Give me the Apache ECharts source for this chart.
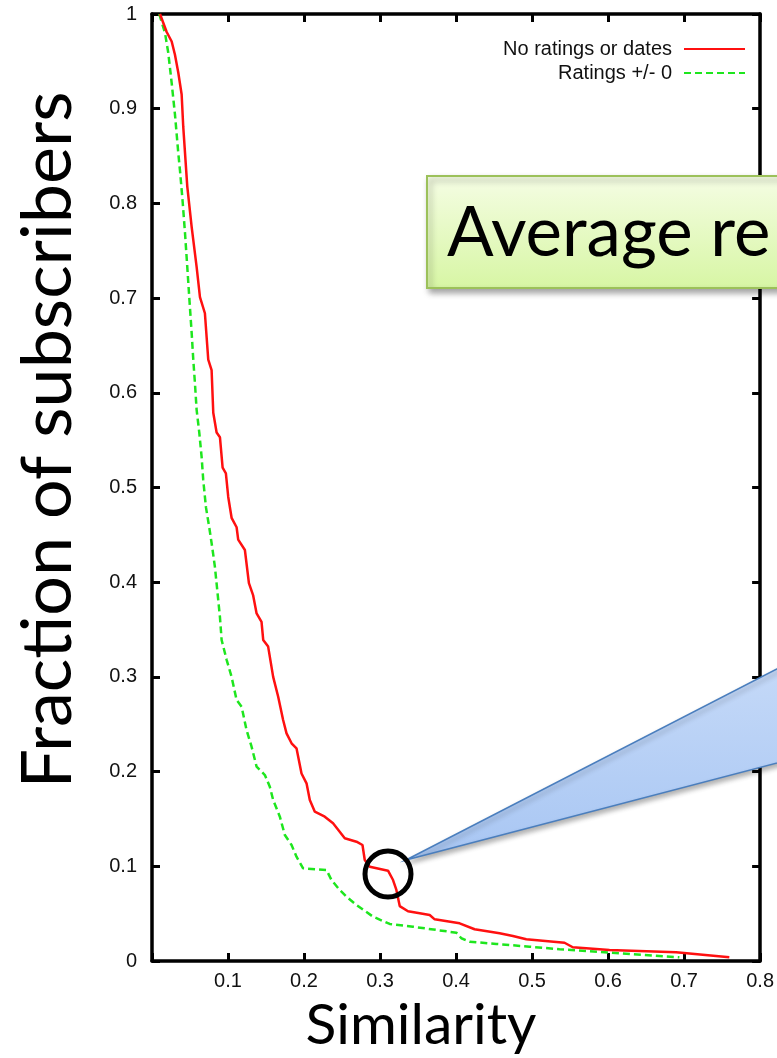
<!DOCTYPE html>
<html>
<head>
<meta charset="utf-8">
<script src="https://cdn.jsdelivr.net/npm/echarts@6/dist/echarts.min.js"></script>
<style>
html,body{margin:0;padding:0;background:#fff;}
#chart{width:777px;height:1058px;}
</style>
</head>
<body>
<div id="chart"></div>
<script>
// Series: "No ratings or dates" (red, solid)
const redX = [0.0105,0.0127,0.0193,0.0259,0.0302,0.0346,0.039,0.0411,0.0464,0.0522,0.0587,0.0631,0.0696,0.074,0.0784,0.0806,0.085,0.0894,0.0929,0.0972,0.1003,0.1047,0.1113,0.1134,0.1222,0.1275,0.1331,0.1376,0.1441,0.1463,0.1528,0.1594,0.166,0.1725,0.177,0.1836,0.1901,0.1967,0.2033,0.2076,0.2142,0.2273,0.2382,0.2536,0.269,0.2769,0.2799,0.2865,0.3105,0.3171,0.3215,0.3259,0.3368,0.3522,0.3653,0.3719,0.4047,0.4244,0.4573,0.4748,0.4924,0.5427,0.5536,0.6018,0.6895,0.7595];
const redY = [1.0,0.999,0.981,0.971,0.957,0.938,0.915,0.881,0.818,0.775,0.733,0.701,0.684,0.635,0.624,0.579,0.558,0.553,0.521,0.515,0.49,0.468,0.458,0.445,0.434,0.399,0.386,0.367,0.358,0.339,0.332,0.300,0.279,0.2545,0.2404,0.2299,0.2246,0.198,0.1876,0.170,0.1577,0.1524,0.1454,0.1296,0.126,0.1225,0.1067,0.0996,0.0954,0.0855,0.075,0.058,0.0525,0.0504,0.0486,0.044,0.0398,0.0335,0.0293,0.0264,0.0229,0.0193,0.0145,0.0116,0.0092,0.0039];
// Series: "Ratings +/- 0" (green, dashed)
const greenX = [0.0095,0.0171,0.0214,0.0259,0.0302,0.0346,0.0368,0.0403,0.0434,0.0464,0.049,0.0522,0.0543,0.0565,0.0587,0.0622,0.0653,0.0674,0.071,0.0753,0.0792,0.0828,0.0858,0.0894,0.0916,0.0982,0.1047,0.1113,0.1179,0.1244,0.131,0.1376,0.1485,0.155,0.1594,0.1682,0.1748,0.1836,0.1901,0.1988,0.2296,0.2361,0.247,0.2559,0.269,0.2908,0.3127,0.3434,0.4004,0.407,0.4179,0.453,0.4967,0.5361,0.6018,0.6938];
const greenY = [1.0,0.980,0.959,0.927,0.894,0.853,0.835,0.802,0.769,0.733,0.701,0.663,0.635,0.610,0.582,0.558,0.532,0.508,0.479,0.458,0.437,0.416,0.392,0.363,0.339,0.318,0.300,0.2756,0.2685,0.2439,0.2263,0.2052,0.1964,0.184,0.170,0.1524,0.133,0.1225,0.1101,0.0979,0.0961,0.0855,0.075,0.0679,0.0591,0.0468,0.0391,0.0362,0.0299,0.024,0.0204,0.018,0.0151,0.0124,0.0088,0.0039];

const seriesNames = ['No ratings or dates', 'Ratings +/- 0'];
const xTitle = 'Similarity';
const yTitle = 'Fraction of subscribers';
const calloutText = 'Average re';

const zip = (xs, ys) => xs.map((x, i) => [x, ys[i]]);

const chart = echarts.init(document.getElementById('chart'), null, {renderer: 'canvas'});

const axisLine = {show: true, onZero: false, lineStyle: {color: '#000', width: 3.5}};
const axisTick = {show: true, inside: true, length: 8, lineStyle: {color: '#000', width: 3}};
const labelStyle = {color: '#111', fontSize: 20, fontFamily: 'Liberation Sans, Arial, sans-serif'};

const option = {
  backgroundColor: '#fff',
  animation: false,
  grid: {left: 152, right: 16, top: 14, bottom: 97, containLabel: false},
  legend: {
    orient: 'vertical',
    right: 26,
    top: 33,
    align: 'right',
    itemWidth: 61,
    itemHeight: 14,
    itemGap: 2,
    selectedMode: false,
    itemStyle: {opacity: 0},
    textStyle: {color: '#111', fontSize: 20, lineHeight: 22, fontFamily: 'Liberation Sans, Arial, sans-serif', padding: [0, 7, 0, 0]},
    data: seriesNames
  },
  xAxis: [
    {
      type: 'value', min: 0, max: 0.8, interval: 0.1, position: 'bottom',
      axisLine: axisLine, axisTick: axisTick, splitLine: {show: false},
      axisLabel: Object.assign({margin: 10, formatter: v => v === 0 ? '' : String(Math.round(v * 10) / 10)}, labelStyle)
    },
    {
      type: 'value', min: 0, max: 0.8, interval: 0.1, position: 'top',
      axisLine: axisLine, axisTick: axisTick, splitLine: {show: false},
      axisLabel: {show: false}
    }
  ],
  yAxis: [
    {
      type: 'value', min: 0, max: 1, interval: 0.1, position: 'left',
      axisLine: axisLine, axisTick: axisTick, splitLine: {show: false},
      axisLabel: Object.assign({margin: 15, formatter: v => String(Math.round(v * 10) / 10)}, labelStyle)
    },
    {
      type: 'value', min: 0, max: 1, interval: 0.1, position: 'right',
      axisLine: axisLine, axisTick: axisTick, splitLine: {show: false},
      axisLabel: {show: false}
    }
  ],
  series: [
    {
      name: seriesNames[0], type: 'line', data: zip(redX, redY),
      symbol: 'none', xAxisIndex: 0, yAxisIndex: 0,
      lineStyle: {color: '#ff1010', width: 2.5}, itemStyle: {color: '#ff1010'}, z: 3
    },
    {
      name: seriesNames[1], type: 'line', data: zip(greenX, greenY),
      symbol: 'none', xAxisIndex: 0, yAxisIndex: 0,
      lineStyle: {color: '#1ee61e', width: 2.5, type: [7, 4]}, itemStyle: {color: '#1ee61e'}, z: 2
    }
  ],
  graphic: [
    {
      type: 'text', z: 100,
      x: 48, y: 440, rotation: Math.PI / 2,
      style: {text: yTitle, fill: '#000', font: '70px Lato, "Open Sans", sans-serif', align: 'center', verticalAlign: 'middle'}
    },
    {
      type: 'text', z: 100,
      x: 421, y: 1026,
      style: {text: xTitle, fill: '#000', font: '57px Lato, "Open Sans", sans-serif', align: 'center', verticalAlign: 'middle'}
    },
    {
      type: 'rect', z: 100,
      shape: {x: 427, y: 176, width: 420, height: 112},
      style: {
        fill: new echarts.graphic.LinearGradient(0, 0, 0, 1, [
          {offset: 0, color: '#f5fde4'}, {offset: 1, color: '#d7f6a4'}
        ]),
        stroke: '#9cc15a', lineWidth: 2,
        shadowBlur: 6, shadowOffsetX: 3, shadowOffsetY: 4, shadowColor: 'rgba(0,0,0,0.35)'
      }
    },
    {
      type: 'text', z: 101,
      x: 447, y: 234,
      style: {text: calloutText, fill: '#000', font: '69px Lato, "Open Sans", sans-serif', align: 'left', verticalAlign: 'middle'}
    },
    {
      type: 'polygon', z: 100,
      shape: {points: [[406, 860], [800, 657], [800, 757]]},
      style: {
        fill: new echarts.graphic.LinearGradient(0, 0, 0, 1, [
          {offset: 0, color: '#c6daf8'}, {offset: 1, color: '#a8c6f3'}
        ]),
        stroke: '#4a7ebd', lineWidth: 1.5,
        shadowBlur: 5, shadowOffsetX: 2, shadowOffsetY: 3, shadowColor: 'rgba(0,0,0,0.3)'
      }
    },
    {
      type: 'circle', z: 102,
      shape: {cx: 388, cy: 874, r: 23},
      style: {fill: 'none', stroke: '#000', lineWidth: 5}
    }
  ]
};

chart.setOption(option);
</script>
</body>
</html>
